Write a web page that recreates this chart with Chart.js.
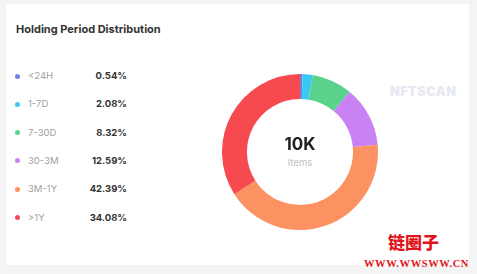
<!DOCTYPE html>
<html>
<head>
<meta charset="utf-8">
<script src="https://cdn.jsdelivr.net/npm/chart.js@4"></script>
<style>
  html, body { margin: 0; padding: 0; }
  body {
    width: 477px; height: 274px; overflow: hidden;
    background: #f4f4f4; position: relative;
    font-family: Inter, "Noto Sans", sans-serif;
  }
  .card {
    position: absolute; left: 6px; top: 4px; width: 463px; height: 261px;
    background: #fff;
  }
  .title {
    position: absolute; left: 10px; top: 18px;
    font-size: 11px; font-weight: 700; color: #333;
  }
  .legend { position: absolute; left: 0; top: 0; }
  .row {
    position: absolute; left: 9px; width: 112px; height: 14px;
    font-size: 9.5px; line-height: 14px;
  }
  .dot {
    position: absolute; left: 0; top: 4.5px; width: 5px; height: 5px; border-radius: 50%;
  }
  .lab { position: absolute; left: 13px; color: #a0a0a0; }
  .val { position: absolute; right: 0; color: #333; font-weight: 700; }
  #box { position: absolute; left: 216px; top: 70px; width: 156px; height: 156px; }
  .wm {
    position: absolute; left: 384px; top: 80px;
    font-size: 12.5px; font-weight: 900; letter-spacing: 0.6px; color: #e6e9f2;
  }
  .wm2 {
    position: absolute; left: 388px; top: 232px;
    font-family: "Noto Sans CJK SC", sans-serif; font-weight: 900;
    font-size: 17px; color: #e0141b; line-height: 20px;
  }
  .wm3 {
    position: absolute; left: 364px; top: 258px;
    font-family: "Liberation Serif", serif; font-weight: 700;
    font-size: 10.5px; color: #e0141b; letter-spacing: 0.6px; line-height: 12px;
  }
</style>
</head>
<body>
<div class="card">
  <div class="title">Holding Period Distribution</div>
  <div class="legend" id="legend"></div>
  <div class="wm">NFTSCAN</div>
  <div id="box"><canvas id="donut"></canvas></div>
</div>
<div class="wm2">链圈子</div>
<div class="wm3">WWW.WWSWW.CN</div>

<script>
// data
const categories = ["<24H", "1-7D", "7-30D", "30-3M", "3M-1Y", ">1Y"];
const shares = [0.54, 2.08, 8.32, 12.59, 42.39, 34.08];
const colors = ["#7083d8", "#3ac8f5", "#5bd28c", "#c982f3", "#fc9162", "#f74a50"];
const centerValue = "10K";
const centerLabel = "Items";

// legend rows
const legend = document.getElementById("legend");
categories.forEach((c, i) => {
  const row = document.createElement("div");
  row.className = "row";
  row.style.top = (65 + i * 28.3) + "px";
  row.innerHTML =
    '<span class="dot" style="background:' + colors[i] + '"></span>' +
    '<span class="lab">' + c + '</span>' +
    '<span class="val">' + shares[i].toFixed(2) + '%</span>';
  legend.appendChild(row);
});

// center text
const centerText = {
  id: "centerText",
  afterDraw(chart) {
    const { ctx } = chart;
    const a = chart.getDatasetMeta(0).data[0];
    if (!a) return;
    ctx.save();
    ctx.textAlign = "center";
    ctx.textBaseline = "middle";
    ctx.fillStyle = "#222";
    ctx.font = "700 17px Inter, 'Noto Sans', sans-serif";
    ctx.fillText(centerValue, a.x, a.y - 7);
    ctx.fillStyle = "#bdbdbd";
    ctx.font = "400 9.5px Inter, 'Noto Sans', sans-serif";
    ctx.fillText(centerLabel, a.x, a.y + 11);
    ctx.restore();
  },
};

new Chart(document.getElementById("donut"), {
  type: "doughnut",
  data: {
    labels: categories,
    datasets: [{
      data: shares,
      backgroundColor: colors,
      borderWidth: 0,
    }],
  },
  options: {
    responsive: true,
    maintainAspectRatio: false,
    animation: false,
    cutout: "68%",
    layout: { padding: 0 },
    plugins: { legend: { display: false }, tooltip: { enabled: false } },
  },
  plugins: [centerText],
});
</script>
</body>
</html>
